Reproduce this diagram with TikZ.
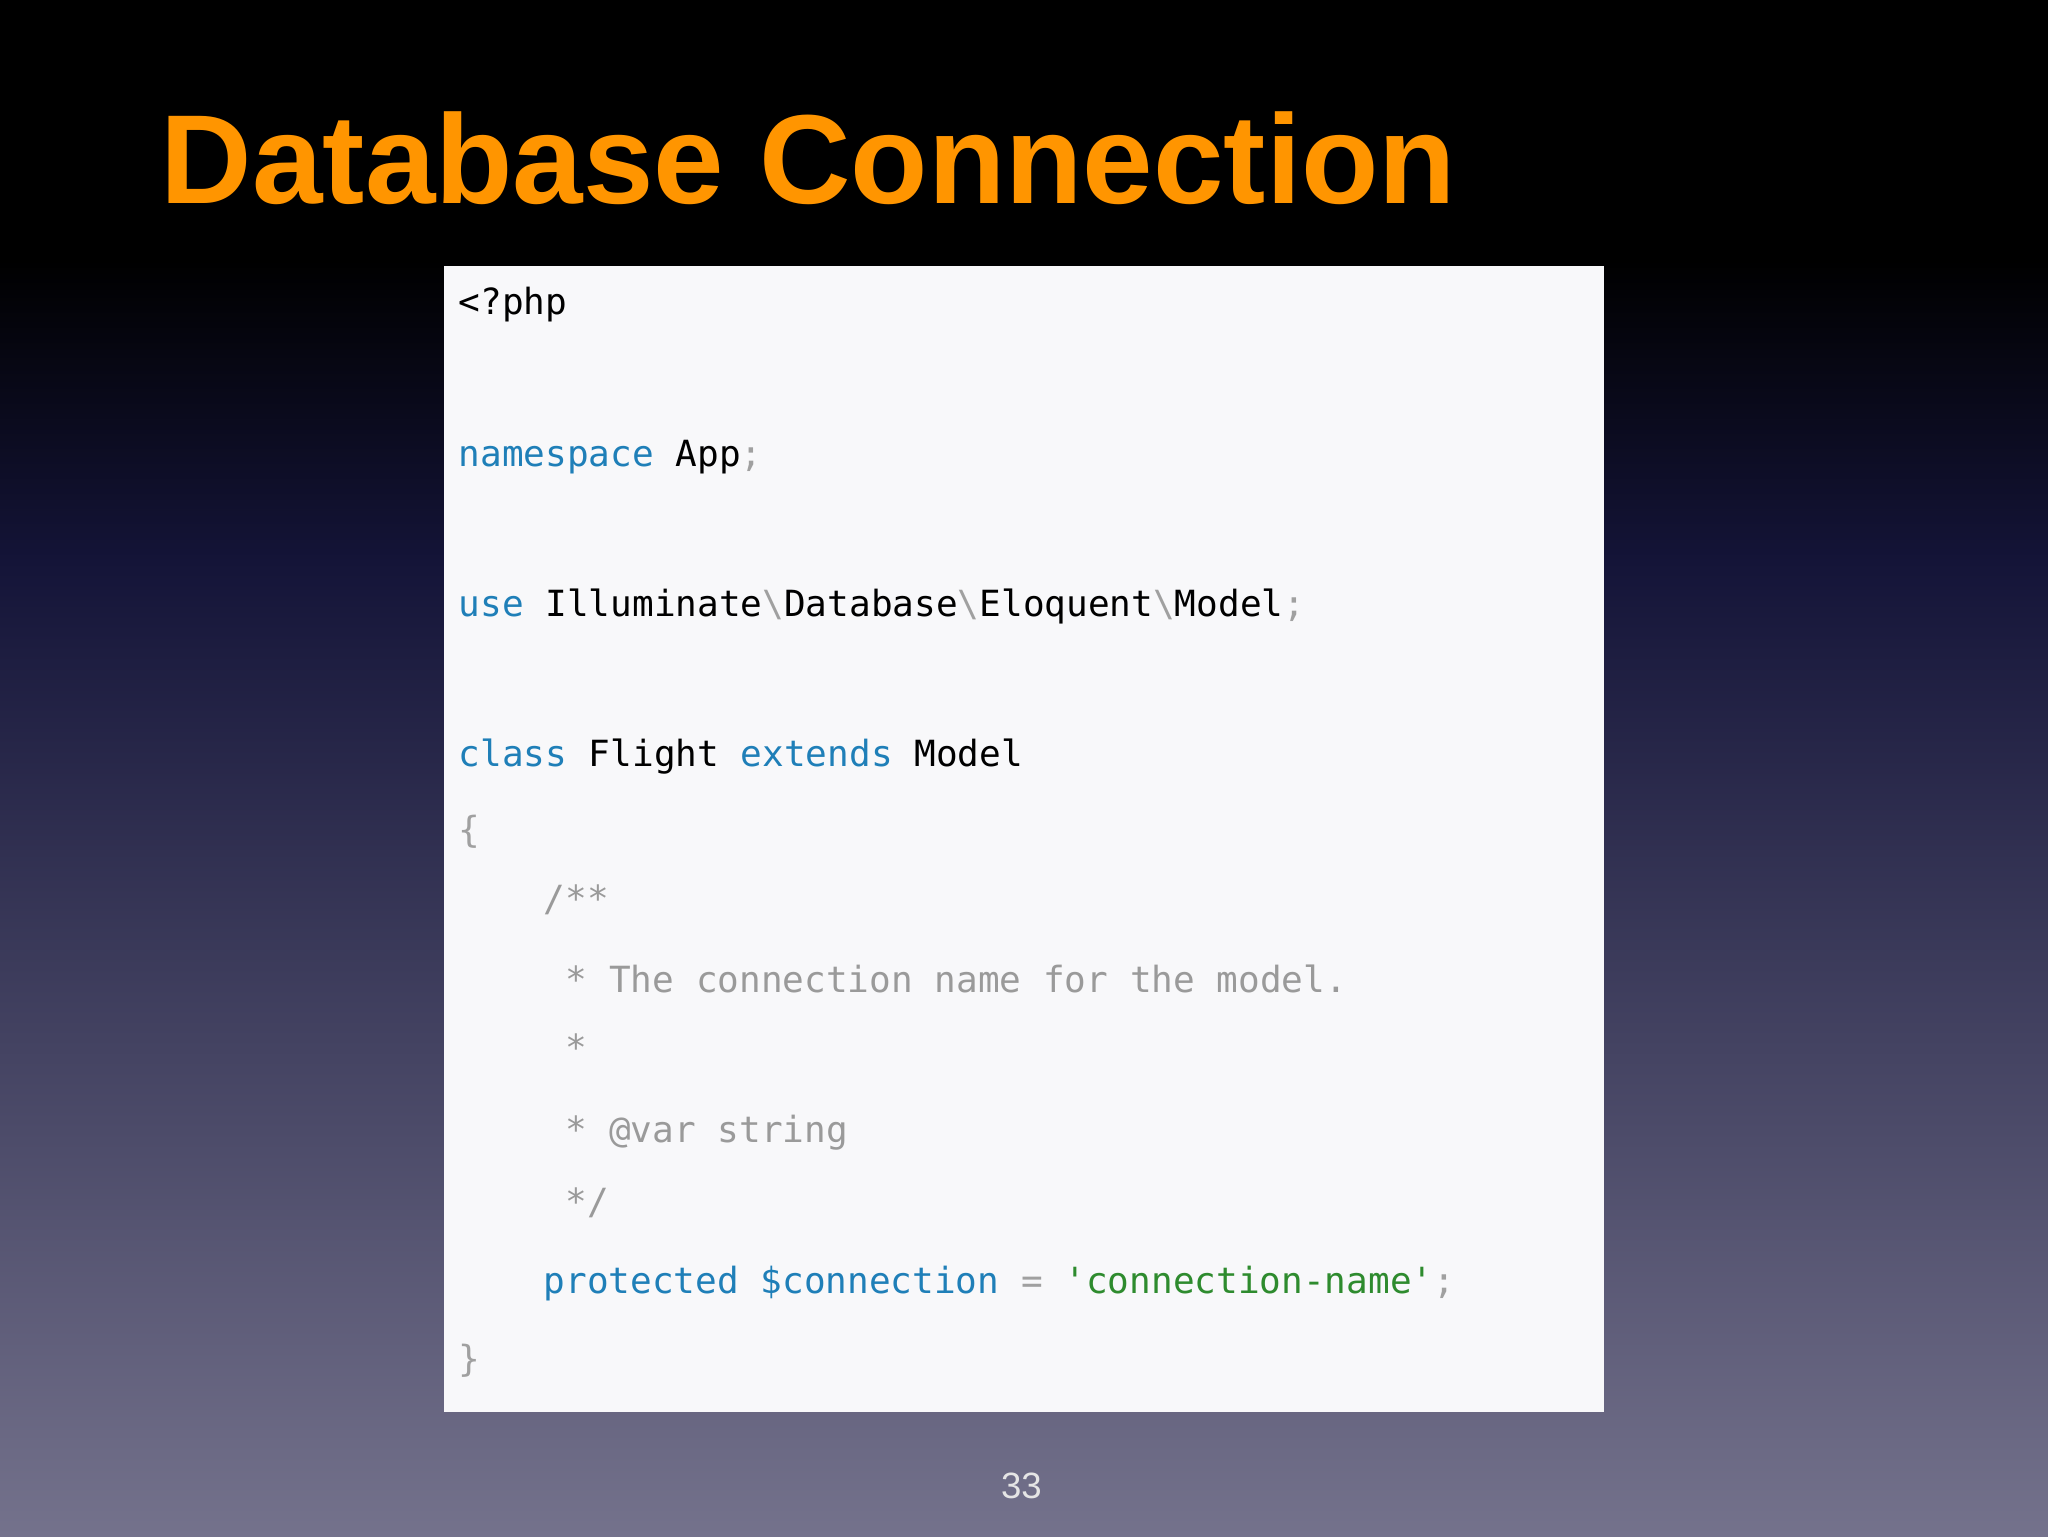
\documentclass[tikz,border=0pt]{standalone}
\usepackage{fontspec}
\setmainfont{Liberation Sans}
\newfontfamily\codefont{DejaVu Sans Mono}
\definecolor{kw}{HTML}{1F7FB8}
\definecolor{cm}{HTML}{9A9A9A}
\definecolor{st}{HTML}{2E8B2E}
\definecolor{pu}{HTML}{A0A0A0}
\definecolor{ttl}{HTML}{FF9500}
\definecolor{bgbot}{HTML}{74728C}
\definecolor{bgmid}{HTML}{141438}
\definecolor{boxbg}{HTML}{F8F8FA}
\tikzset{code/.style={anchor=base west,inner sep=0pt,font=\codefont\fontsize{27.6}{30}\selectfont,text=black}}
\begin{document}
\begin{tikzpicture}[x=1pt,y=-1pt]
\useasboundingbox (0,0) rectangle (1568,1176);
\fill[black] (0,0) rectangle (1568,200);
\shade[top color=black,bottom color=bgmid] (0,199) rectangle (1568,430);
\shade[top color=bgmid,bottom color=bgbot] (0,429) rectangle (1568,1176);
\node[anchor=base west,inner sep=0pt,text=ttl,font=\bfseries\fontsize{97}{110}\selectfont] (title) at (123,156) {Database Connection};
\fill[boxbg] (340,204) rectangle (1228,1081);
\node[code] (l1) at (351,241) {<?php};
\node[code] (l2) at (351,357) {\textcolor{kw}{namespace} App\textcolor{pu}{;}};
\node[code] (l3) at (351,472) {\textcolor{kw}{use} Illuminate\textcolor{pu}{\textbackslash}Database\textcolor{pu}{\textbackslash}Eloquent\textcolor{pu}{\textbackslash}Model\textcolor{pu}{;}};
\node[code] (l4) at (351,587) {\textcolor{kw}{class} Flight \textcolor{kw}{extends} Model};
\node[code,text=pu] (l5) at (351,645) {\{};
\node[code,text=cm] (l6) at (416,698) {/**};
\node[code,text=cm] (l7) at (433,760) {* The connection name for the model.};
\node[code,text=cm] (l8) at (433,812) {*};
\node[code,text=cm] (l9) at (433,875) {* @var string};
\node[code,text=cm] (l10) at (433,930) {*/};
\node[code] (l11) at (416,990) {\textcolor{kw}{protected \$connection} \textcolor{pu}{=} \textcolor{st}{'connection-name'}\textcolor{pu}{;}};
\node[code,text=pu] (l12) at (351,1050) {\}};
\node[text=white!80!gray,font=\fontsize{28}{30}\selectfont] (pg) at (782,1138) {33};
\end{tikzpicture}
\end{document}
